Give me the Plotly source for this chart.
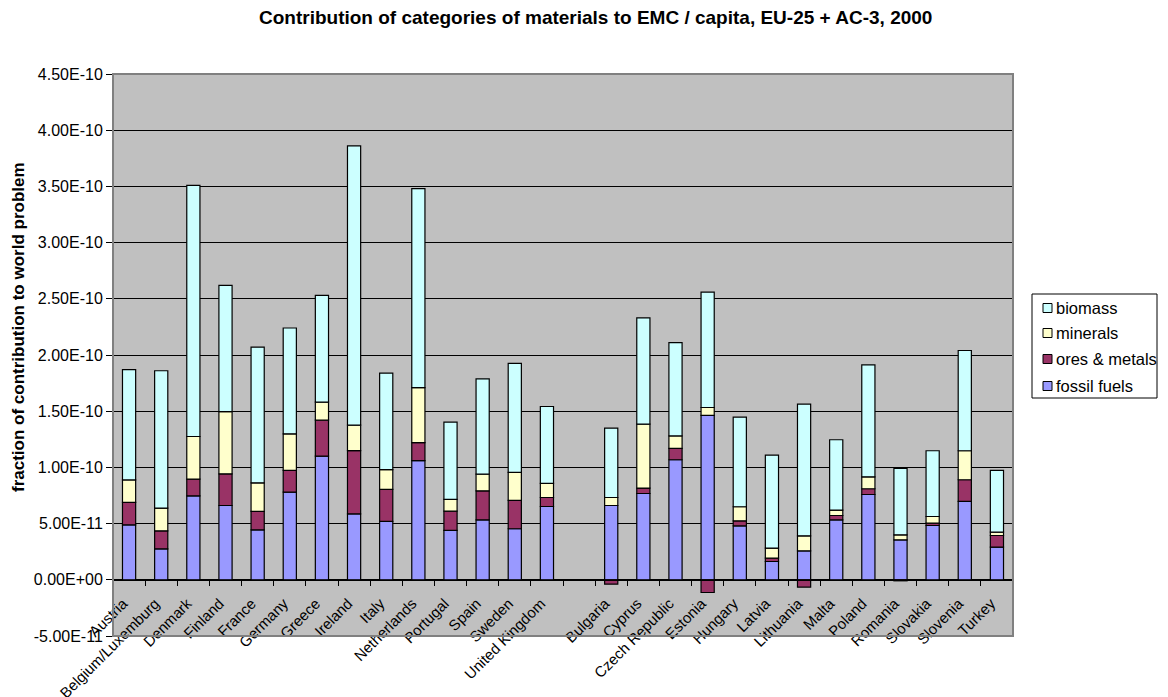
import plotly.graph_objects as go

# values in units of 1e-11
countries = ["Austria", "Belgium/Luxemburg", "Denmark", "Finland", "France", "Germany",
             "Greece", "Ireland", "Italy", "Netherlands", "Portugal", "Spain", "Sweden",
             "United Kingdom", " ", "Bulgaria", "Cyprus", "Czech Republic", "Estonia",
             "Hungary", "Latvia", "Lithuania", "Malta", "Poland", "Romania", "Slovakia",
             "Slovenia", "Turkey"]

fossil_fuels = [4.89, 2.76, 7.47, 6.61, 4.45, 7.80, 11.0, 5.87, 5.19, 10.6, 4.39, 5.34, 4.54,
                6.52, None, 6.61, 7.68, 10.68, 14.62, 4.80, 1.63, 2.58, 5.34, 7.59, 3.56,
                4.83, 6.97, 2.90]
ores_metals = [2.00, 1.60, 1.49, 2.82, 1.63, 1.93, 3.20, 5.63, 2.85, 1.60, 1.72, 2.58, 2.52,
               0.80, None, -0.39, 0.48, 1.02, -1.13, 0.45, 0.30, -0.65, 0.38, 0.51, -0.09,
               0.21, 1.93, 1.04]
minerals = [2.00, 2.02, 3.79, 5.54, 2.55, 3.26, 1.60, 2.26, 1.77, 4.90, 1.04, 1.48, 2.49,
            1.25, None, 0.71, 5.69, 1.10, 0.71, 1.25, 0.89, 1.33, 0.48, 1.06, 0.44, 0.59,
            2.58, 0.30]
biomass = [9.80, 12.22, 22.35, 11.23, 12.07, 9.41, 9.50, 24.84, 8.58, 17.7, 6.88, 8.48, 9.70,
           6.85, None, 6.17, 9.45, 8.30, 10.27, 7.97, 8.27, 11.72, 6.26, 9.97, 5.90, 5.85,
           8.92, 5.49]

y_ticks = [-5e-11, 0, 5e-11, 1e-10, 1.5e-10, 2e-10, 2.5e-10, 3e-10, 3.5e-10, 4e-10, 4.5e-10]
y_tick_labels = ["-5.00E-11", "0.00E+00", "5.00E-11", "1.00E-10", "1.50E-10", "2.00E-10",
                 "2.50E-10", "3.00E-10", "3.50E-10", "4.00E-10", "4.50E-10"]

def scale(vals):
    return [v * 1e-11 if v is not None else None for v in vals]

series = [("fossil fuels", fossil_fuels, "#9999FF"),
          ("ores & metals", ores_metals, "#993366"),
          ("minerals", minerals, "#FFFFCC"),
          ("biomass", biomass, "#CCFFFF")]

fig = go.Figure()
for name, vals, color in series:
    fig.add_trace(go.Bar(x=countries, y=scale(vals), name=name, showlegend=False,
                         marker=dict(color=color, line=dict(color="black", width=1.2))))

# page body has an 8px margin, so everything is laid out 8px up/left
L, T, PW, PH = 105, 66, 900, 562
W, H = 1160, 689

def px(x):  # screen x -> paper
    return (x - 8 - L) / PW

def py(y):  # screen y -> paper
    return (T + PH - (y - 8)) / PH

font = "Arial, Liberation Sans, sans-serif"
fig.update_layout(
    width=W, height=H,
    barmode="relative", bargap=0.59,
    paper_bgcolor="white", plot_bgcolor="#C0C0C0",
    margin=dict(l=L, r=W - L - PW, t=T, b=H - T - PH),
    font=dict(family=font, size=15, color="black"),
)
fig.update_xaxes(type="category", anchor="free", position=56 / 562, automargin=False,
                 tickangle=-45, showline=True, linecolor="black", linewidth=1,
                 ticks="outside", ticklen=5, tickcolor="black", tickson="boundaries",
                 ticklabelstandoff=8, ticklabelshift=-6,
                 showgrid=False, tickfont=dict(size=15), fixedrange=True)
fig.update_yaxes(range=[-5e-11, 4.5e-10], tickvals=y_ticks, ticktext=y_tick_labels,
                 showgrid=True, gridcolor="black", gridwidth=1, zeroline=False,
                 showline=True, linecolor="black", linewidth=1,
                 ticks="outside", ticklen=6, tickcolor="black", automargin=False,
                 tickfont=dict(size=16))
fig.add_shape(type="rect", xref="paper", yref="paper", x0=0, x1=1, y0=0, y1=1,
              line=dict(color="#808080", width=2), layer="above")

# title and axis title
fig.add_annotation(text="<b>Contribution of categories of materials to EMC / capita, EU-25 + AC-3, 2000</b>",
                   xref="paper", yref="paper", x=px(595), y=py(17), xanchor="center",
                   yanchor="middle", showarrow=False, font=dict(size=19))
fig.add_annotation(text="<b>fraction of contribution to world problem</b>", textangle=-90,
                   xref="paper", yref="paper", x=px(18), y=py(327),
                   xanchor="center", yanchor="middle", showarrow=False,
                   font=dict(size=17))

# legend drawn by hand to get Excel-like compact squares
fig.add_shape(type="rect", xref="paper", yref="paper", x0=px(1032), x1=px(1157),
              y0=py(398), y1=py(294), line=dict(color="black", width=1), fillcolor="white")
legend_rows = [("biomass", "#CCFFFF", 308), ("minerals", "#FFFFCC", 333),
               ("ores & metals", "#993366", 359), ("fossil fuels", "#9999FF", 386)]
for label, color, yc in legend_rows:
    fig.add_shape(type="rect", xref="paper", yref="paper", x0=px(1043), x1=px(1052),
                  y0=py(yc + 4.5), y1=py(yc - 4.5), line=dict(color="black", width=1),
                  fillcolor=color)
    fig.add_annotation(text=label, xref="paper", yref="paper", x=px(1054), y=py(yc),
                       xanchor="left", yanchor="middle", showarrow=False,
                       font=dict(size=16.5))

fig.write_html("out.html")
